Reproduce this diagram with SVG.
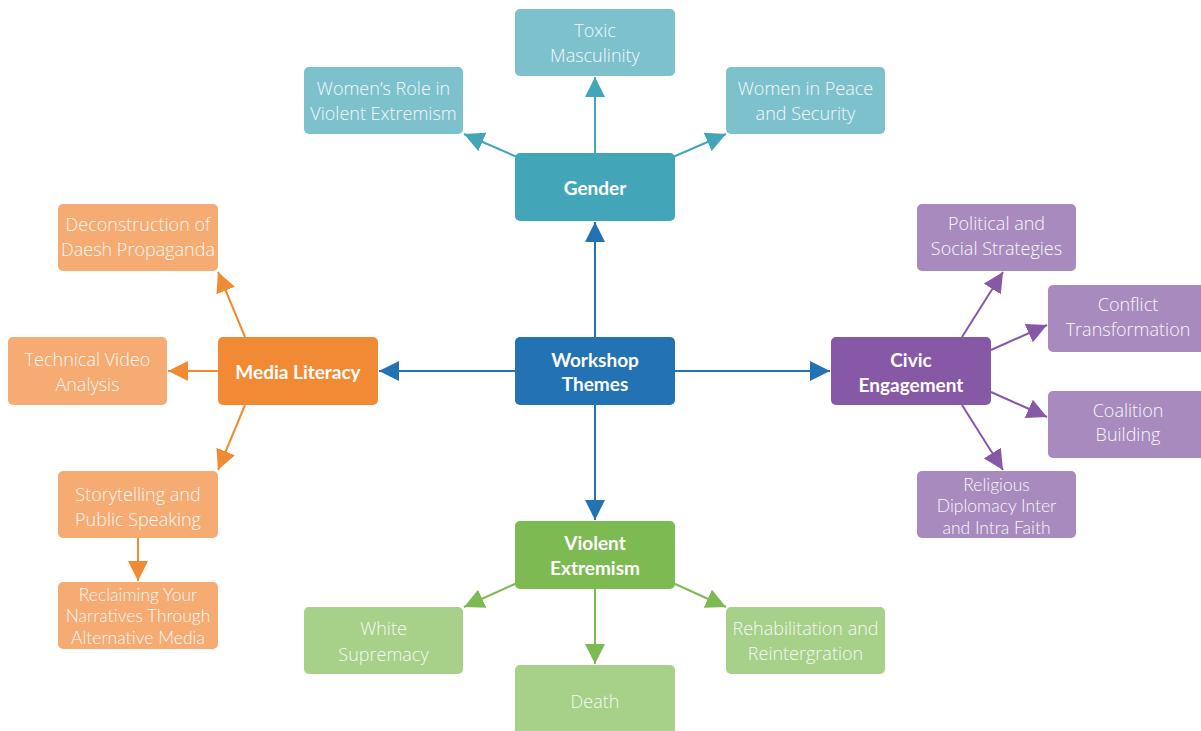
<svg xmlns="http://www.w3.org/2000/svg" width="1201" height="731" viewBox="0 0 1201 731">
  <defs>
    <marker id="arr-blue" markerUnits="userSpaceOnUse" markerWidth="20" markerHeight="20" viewBox="0 0 18 18" refX="18" refY="9" orient="auto"><path d="M0,0 L18,9 L0,18 Z" fill="#2272b4"/></marker>
    <marker id="arr-teal" markerUnits="userSpaceOnUse" markerWidth="20" markerHeight="20" viewBox="0 0 18 18" refX="18" refY="9" orient="auto"><path d="M0,0 L18,9 L0,18 Z" fill="#43a6b8"/></marker>
    <marker id="arr-orange" markerUnits="userSpaceOnUse" markerWidth="20" markerHeight="20" viewBox="0 0 18 18" refX="18" refY="9" orient="auto"><path d="M0,0 L18,9 L0,18 Z" fill="#f08a34"/></marker>
    <marker id="arr-purple" markerUnits="userSpaceOnUse" markerWidth="20" markerHeight="20" viewBox="0 0 18 18" refX="18" refY="9" orient="auto"><path d="M0,0 L18,9 L0,18 Z" fill="#8658a5"/></marker>
    <marker id="arr-green" markerUnits="userSpaceOnUse" markerWidth="20" markerHeight="20" viewBox="0 0 18 18" refX="18" refY="9" orient="auto"><path d="M0,0 L18,9 L0,18 Z" fill="#7dbb52"/></marker>
  </defs>
  <style>
    .box { rx: 5; ry: 5; }
    .main { font-family: Lato, "Open Sans", "Liberation Sans", sans-serif; font-weight: 700; font-size: 19px; fill: #ffffff; text-anchor: middle; dominant-baseline: central; }
    .sub { font-family: "Open Sans", Lato, "Liberation Sans", sans-serif; font-weight: 300; font-size: 18px; fill: #f6f9f9; text-anchor: middle; dominant-baseline: central; }
    .sub3 { font-family: Lato, "Open Sans", "Liberation Sans", sans-serif; font-size: 17.5px; }
    .c-blue { fill: #2272b4; }
    .c-teal { fill: #43a6b8; }
    .c-teal-l { fill: #7dc1cd; }
    .c-orange { fill: #f08a34; }
    .c-orange-l { fill: #f5ab71; }
    .c-purple { fill: #8658a5; }
    .c-purple-l { fill: #a98abf; }
    .c-green { fill: #7dbb52; }
    .c-green-l { fill: #a7d088; }
    .ln { stroke-width: 2; fill: none; }
    .ln-blue { stroke: #2272b4; marker-end: url(#arr-blue); }
    .ln-teal { stroke: #43a6b8; marker-end: url(#arr-teal); }
    .ln-orange { stroke: #f08a34; marker-end: url(#arr-orange); }
    .ln-purple { stroke: #8658a5; marker-end: url(#arr-purple); }
    .ln-green { stroke: #7dbb52; marker-end: url(#arr-green); }
  </style>

  <rect width="1201" height="731" fill="#ffffff"/>

  <!-- connectors -->
  <g id="connectors">
    <line class="ln ln-blue" x1="595" y1="337" x2="595" y2="222"/>
    <line class="ln ln-blue" x1="515" y1="371" x2="379" y2="371"/>
    <line class="ln ln-blue" x1="675" y1="371" x2="830" y2="371"/>
    <line class="ln ln-blue" x1="595" y1="405" x2="595" y2="520"/>

    <line class="ln ln-teal" x1="595" y1="153" x2="595" y2="77"/>
    <line class="ln ln-teal" x1="517" y1="157" x2="464" y2="134"/>
    <line class="ln ln-teal" x1="673" y1="157" x2="726" y2="134"/>

    <line class="ln ln-orange" x1="245" y1="337" x2="218" y2="272"/>
    <line class="ln ln-orange" x1="218" y1="371" x2="168" y2="371"/>
    <line class="ln ln-orange" x1="245" y1="405" x2="218" y2="470"/>
    <line class="ln ln-orange" x1="138" y1="538" x2="138" y2="581"/>

    <line class="ln ln-purple" x1="962" y1="337" x2="1003" y2="272"/>
    <line class="ln ln-purple" x1="991" y1="350" x2="1047" y2="325"/>
    <line class="ln ln-purple" x1="991" y1="392" x2="1047" y2="417"/>
    <line class="ln ln-purple" x1="962" y1="405" x2="1003" y2="470"/>

    <line class="ln ln-green" x1="595" y1="589" x2="595" y2="664"/>
    <line class="ln ln-green" x1="517" y1="583" x2="464" y2="607"/>
    <line class="ln ln-green" x1="673" y1="583" x2="726" y2="607"/>
  </g>

  <!-- hub -->
  <g id="workshop-themes">
    <rect class="box c-blue" x="515" y="337" width="160" height="68"/>
    <text class="main" x="595" y="359">Workshop</text>
    <text class="main" x="595" y="383">Themes</text>
  </g>

  <!-- gender branch -->
  <g id="gender">
    <rect class="box c-teal" x="515" y="153" width="160" height="68"/>
    <text class="main" x="595" y="187">Gender</text>
  </g>
  <g id="toxic-masculinity">
    <rect class="box c-teal-l" x="515" y="9" width="160" height="67"/>
    <text class="sub" x="595" y="30">Toxic</text>
    <text class="sub" x="595" y="55">Masculinity</text>
  </g>
  <g id="womens-role">
    <rect class="box c-teal-l" x="304" y="67" width="159" height="67"/>
    <text class="sub" x="383.5" y="88">Women’s Role in</text>
    <text class="sub" x="383.5" y="113">Violent Extremism</text>
  </g>
  <g id="women-peace-security">
    <rect class="box c-teal-l" x="726" y="67" width="159" height="67"/>
    <text class="sub" x="805.5" y="88">Women in Peace</text>
    <text class="sub" x="805.5" y="113">and Security</text>
  </g>

  <!-- media literacy branch -->
  <g id="media-literacy">
    <rect class="box c-orange" x="218" y="337" width="160" height="68"/>
    <text class="main" x="298" y="371">Media Literacy</text>
  </g>
  <g id="deconstruction">
    <rect class="box c-orange-l" x="58" y="204" width="160" height="67"/>
    <text class="sub" x="138" y="224">Deconstruction of</text>
    <text class="sub" x="138" y="249">Daesh Propaganda</text>
  </g>
  <g id="technical-video">
    <rect class="box c-orange-l" x="8" y="337" width="159" height="68"/>
    <text class="sub" x="87.5" y="359">Technical Video</text>
    <text class="sub" x="87.5" y="384">Analysis</text>
  </g>
  <g id="storytelling">
    <rect class="box c-orange-l" x="58" y="471" width="160" height="67"/>
    <text class="sub" x="138" y="494">Storytelling and</text>
    <text class="sub" x="138" y="519">Public Speaking</text>
  </g>
  <g id="reclaiming">
    <rect class="box c-orange-l" x="58" y="582" width="160" height="67"/>
    <text class="sub sub3" x="138" y="594">Reclaiming Your</text>
    <text class="sub sub3" x="138" y="615.5">Narratives Through</text>
    <text class="sub sub3" x="138" y="637">Alternative Media</text>
  </g>

  <!-- civic engagement branch -->
  <g id="civic-engagement">
    <rect class="box c-purple" x="831" y="337" width="160" height="68"/>
    <text class="main" x="911" y="359">Civic</text>
    <text class="main" x="911" y="384">Engagement</text>
  </g>
  <g id="political-social">
    <rect class="box c-purple-l" x="917" y="204" width="159" height="67"/>
    <text class="sub" x="996.5" y="223">Political and</text>
    <text class="sub" x="996.5" y="248">Social Strategies</text>
  </g>
  <g id="conflict-transformation">
    <rect class="box c-purple-l" x="1048" y="285" width="160" height="67"/>
    <text class="sub" x="1128" y="304">Conflict</text>
    <text class="sub" x="1128" y="329">Transformation</text>
  </g>
  <g id="coalition-building">
    <rect class="box c-purple-l" x="1048" y="391" width="160" height="67"/>
    <text class="sub" x="1128" y="410">Coalition</text>
    <text class="sub" x="1128" y="434">Building</text>
  </g>
  <g id="religious-diplomacy">
    <rect class="box c-purple-l" x="917" y="471" width="159" height="67"/>
    <text class="sub sub3" x="996.5" y="484">Religious</text>
    <text class="sub sub3" x="996.5" y="505.5">Diplomacy Inter</text>
    <text class="sub sub3" x="996.5" y="527">and Intra Faith</text>
  </g>

  <!-- violent extremism branch -->
  <g id="violent-extremism">
    <rect class="box c-green" x="515" y="521" width="160" height="68"/>
    <text class="main" x="595" y="542">Violent</text>
    <text class="main" x="595" y="567">Extremism</text>
  </g>
  <g id="white-supremacy">
    <rect class="box c-green-l" x="304" y="607" width="159" height="67"/>
    <text class="sub" x="383.5" y="628">White</text>
    <text class="sub" x="383.5" y="654">Supremacy</text>
  </g>
  <g id="rehabilitation">
    <rect class="box c-green-l" x="726" y="607" width="159" height="67"/>
    <text class="sub" x="805.5" y="628">Rehabilitation and</text>
    <text class="sub" x="805.5" y="653">Reintergration</text>
  </g>
  <g id="death">
    <rect class="box c-green-l" x="515" y="665" width="160" height="72"/>
    <text class="sub" x="595" y="701">Death</text>
  </g>
</svg>
